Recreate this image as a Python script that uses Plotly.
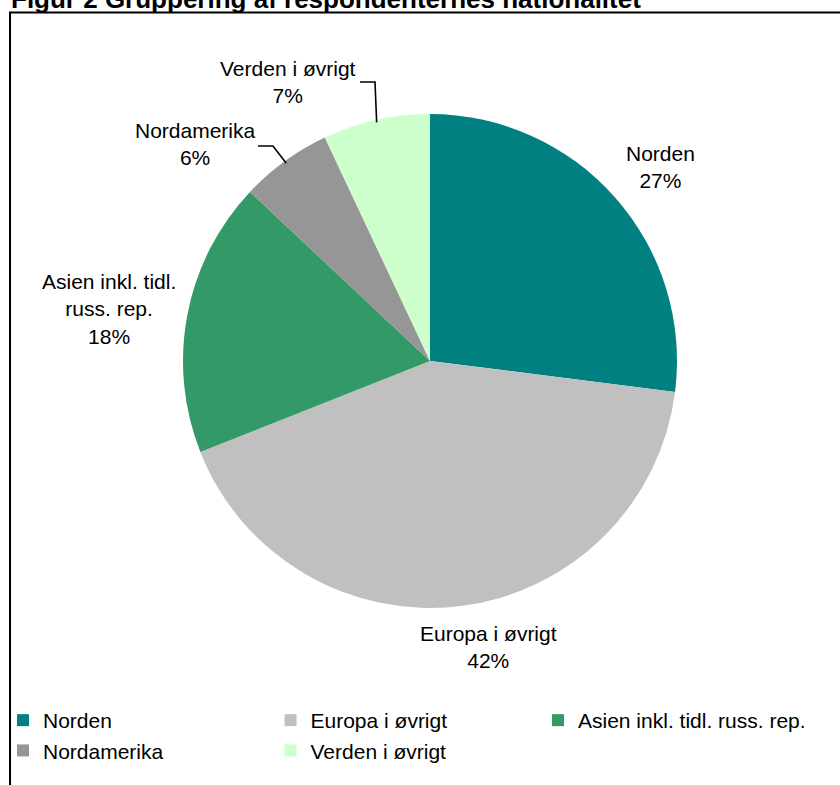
import plotly.graph_objects as go
import math

# ---- data ----
categories = ["Norden", "Europa i øvrigt", "Asien inkl. tidl. russ. rep.", "Nordamerika", "Verden i øvrigt"]
values = [27, 42, 18, 6, 7]
label_texts = ["Norden<br>27%", "Europa i øvrigt<br>42%", "Asien inkl. tidl.<br>russ. rep.<br>18%",
               "Nordamerika<br>6%", "Verden i øvrigt<br>7%"]
colors = ["#008080", "#C0C0C0", "#339966", "#969696", "#CCFFCC"]
title_text = "Figur 2 Gruppering af respondenternes nationalitet"

W, H = 840, 785
CX, CY, R = 430, 361, 247
FONT = "Arial, Liberation Sans, sans-serif"

def px(x):
    return x / W

def py(y):
    return 1 - y / H

fig = go.Figure()
fig.add_trace(go.Pie(
    labels=categories, values=values, sort=False, direction="clockwise", rotation=0,
    marker=dict(colors=colors, line=dict(width=0)),
    textinfo="none", hoverinfo="label+percent",
    domain=dict(x=[px(CX - R), px(CX + R)], y=[py(CY + R), py(CY - R)]),
))

# label placement (layout): centers in pixels, plus optional leader elbow/end
label_pos = [(660, 167), (488, 646.5), (109, 308.5), (195, 144.5), (288, 82.5)]
leaders = {3: [(273, 146), (258, 146)], 4: [(375, 82), (360, 82)]}

total = sum(values)
cum = 0
annotations = []
shapes = []
for i, v in enumerate(values):
    mid = (cum + v / 2) / total * 2 * math.pi
    cum += v
    lx, ly = label_pos[i]
    annotations.append(dict(x=px(lx), y=py(ly), xref="paper", yref="paper", text=label_texts[i],
                            showarrow=False, xanchor="center", yanchor="middle", align="center",
                            font=dict(family=FONT, size=21, color="#000000")))
    if i in leaders:
        ex = CX + 0.99 * R * math.sin(mid)
        ey = CY - 0.99 * R * math.cos(mid)
        pts = [(ex, ey)] + leaders[i]
        path = "M " + " L ".join(f"{px(a)},{py(b)}" for a, b in pts)
        shapes.append(dict(type="path", path=path, xref="paper", yref="paper",
                           line=dict(color="#000000", width=1.6)))

# title (partly cut at the top edge)
annotations.append(dict(x=px(9), y=py(-1.0), xref="paper", yref="paper", text="<b>" + title_text + "</b>",
                        showarrow=False, xanchor="left", yanchor="middle",
                        font=dict(family=FONT, size=26, color="#000000")))

# frame (only top and left edges are visible in the crop)
frame_pts = [(10, H + 20), (10, 12.5), (W + 20, 12.5)]
shapes.append(dict(type="path", xref="paper", yref="paper",
                   path="M " + " L ".join(f"{px(a)},{py(b)}" for a, b in frame_pts),
                   line=dict(color="#000000", width=2), layer="below"))

BW = 3
fig.update_layout(
    width=W, height=H,
    margin=dict(l=0, r=0, t=0, b=0),
    paper_bgcolor="#FFFFFF", plot_bgcolor="#FFFFFF",
    annotations=annotations, shapes=shapes,
    showlegend=True,
    legend=dict(orientation="h", x=0, y=py(700 - BW), xanchor="left", yanchor="top",
                entrywidth=222.5, entrywidthmode="pixels", traceorder="normal",
                borderwidth=BW, bordercolor="rgba(0,0,0,0)",
                font=dict(family=FONT, size=21, color="#000000"), bgcolor="rgba(0,0,0,0)"),
)

fig.write_html("out.html", config={"displayModeBar": False},
               post_script="document.body.style.margin='0px';document.body.style.overflow='hidden';")
